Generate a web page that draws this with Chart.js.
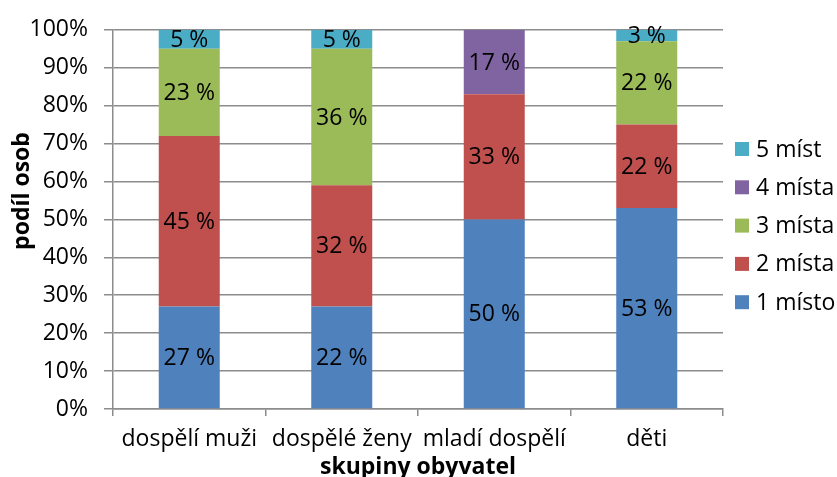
<!DOCTYPE html>
<html>
<head>
<meta charset="utf-8">
<script src="https://cdn.jsdelivr.net/npm/chart.js@4/dist/chart.umd.min.js"></script>
<style>
  html, body { margin: 0; padding: 0; background: #fff; }
  #wrap { width: 837px; height: 477px; }
</style>
</head>
<body>
<div id="wrap"><canvas id="chart" width="837" height="477"></canvas></div>
<script>
// categories and series (share of people, %)
const groups = ['dospělí muži', 'dospělé ženy', 'mladí dospělí', 'děti'];
const seriesNames = ['1 místo', '2 místa', '3 místa', '4 místa', '5 míst'];
const misto1 = [27, 27, 50, 53];
const misto2 = [45, 32, 33, 22];
const misto3 = [23, 36, 0, 22];
const misto4 = [0, 0, 17, 0];
const misto5 = [5, 5, 0, 3];
// printed labels (as they appear in the original)
const label1 = ['27 %', '22 %', '50 %', '53 %'];
const label2 = ['45 %', '32 %', '33 %', '22 %'];
const label3 = ['23 %', '36 %', '', '22 %'];
const label4 = ['', '', '17 %', ''];
const label5 = ['5 %', '5 %', '', '3 %'];
const yTicks = ['0%', '10%', '20%', '30%', '40%', '50%', '60%', '70%', '80%', '90%', '100%'];

const colors = ['#4F81BD', '#C0504D', '#9BBB59', '#8064A2', '#4BACC6'];
const values = [misto1, misto2, misto3, misto4, misto5];
const labels = [label1, label2, label3, label4, label5];
const FONT = "'Open Sans', sans-serif";

const segmentLabels = {
  id: 'segmentLabels',
  afterDatasetsDraw(chart) {
    const ctx = chart.ctx;
    ctx.save();
    ctx.font = '23px ' + FONT;
    ctx.fillStyle = '#000';
    ctx.textAlign = 'center';
    ctx.textBaseline = 'middle';
    chart.data.datasets.forEach((ds, i) => {
      chart.getDatasetMeta(i).data.forEach((bar, j) => {
        const txt = labels[i][j];
        if (!txt) return;
        const p = bar.getProps(['x', 'y', 'base'], true);
        ctx.fillText(txt, p.x, (p.y + p.base) / 2 + 1);
      });
    });
    ctx.restore();
  }
};

const extras = {
  id: 'extras',
  afterDraw(chart) {
    const ctx = chart.ctx;
    const area = chart.chartArea;
    ctx.save();
    // axis titles
    ctx.fillStyle = '#000';
    ctx.font = 'bold 23px ' + FONT;
    ctx.textAlign = 'center';
    ctx.textBaseline = 'middle';
    ctx.fillText('skupiny obyvatel', (area.left + area.right) / 2, 467);
    ctx.translate(22, 191);
    ctx.rotate(-Math.PI / 2);
    ctx.fillText('podíl osob', 0, 0);
    ctx.restore();
    // legend (reverse order, top = 5 míst)
    ctx.save();
    ctx.font = '23px ' + FONT;
    ctx.textBaseline = 'middle';
    ctx.textAlign = 'left';
    const n = chart.data.datasets.length;
    for (let k = 0; k < n; k++) {
      const ds = chart.data.datasets[n - 1 - k];
      const y = 149 + k * 38.3;
      ctx.fillStyle = ds.backgroundColor;
      ctx.fillRect(735, y - 7, 14, 14);
      ctx.fillStyle = '#000';
      ctx.fillText(ds.label, 756, y + 1);
    }
    ctx.restore();
  }
};

new Chart(document.getElementById('chart'), {
  type: 'bar',
  data: {
    labels: groups,
    datasets: seriesNames.map((name, i) => ({
      label: name,
      data: values[i],
      backgroundColor: colors[i],
      borderWidth: 0,
      barPercentage: 0.4,
      categoryPercentage: 1.0
    }))
  },
  options: {
    responsive: false,
    animation: false,
    layout: { padding: { left: 0, right: 114, top: 25, bottom: 0 } },
    plugins: {
      legend: { display: false },
      tooltip: { enabled: false }
    },
    scales: {
      x: {
        stacked: true,
        afterFit: s => { s.height = 68; },
        grid: { drawOnChartArea: false, color: '#8c8c8c', lineWidth: 1.5, tickLength: 7, offset: true },
        border: { color: '#8c8c8c', width: 1.5 },
        ticks: { color: '#000', font: { family: FONT, size: 23 }, padding: 10, maxRotation: 0, autoSkip: false }
      },
      y: {
        stacked: true,
        min: 0,
        max: 100,
        afterFit: s => { s.width = 113; },
        grid: { color: '#8c8c8c', lineWidth: 1.5, tickLength: 9 },
        border: { color: '#8c8c8c', width: 1.5 },
        ticks: {
          stepSize: 10,
          color: '#000',
          padding: 16,
          font: { family: FONT, size: 23 },
          callback: v => yTicks[Math.round(v / 10)]
        }
      }
    }
  },
  plugins: [segmentLabels, extras]
});
</script>
</body>
</html>
